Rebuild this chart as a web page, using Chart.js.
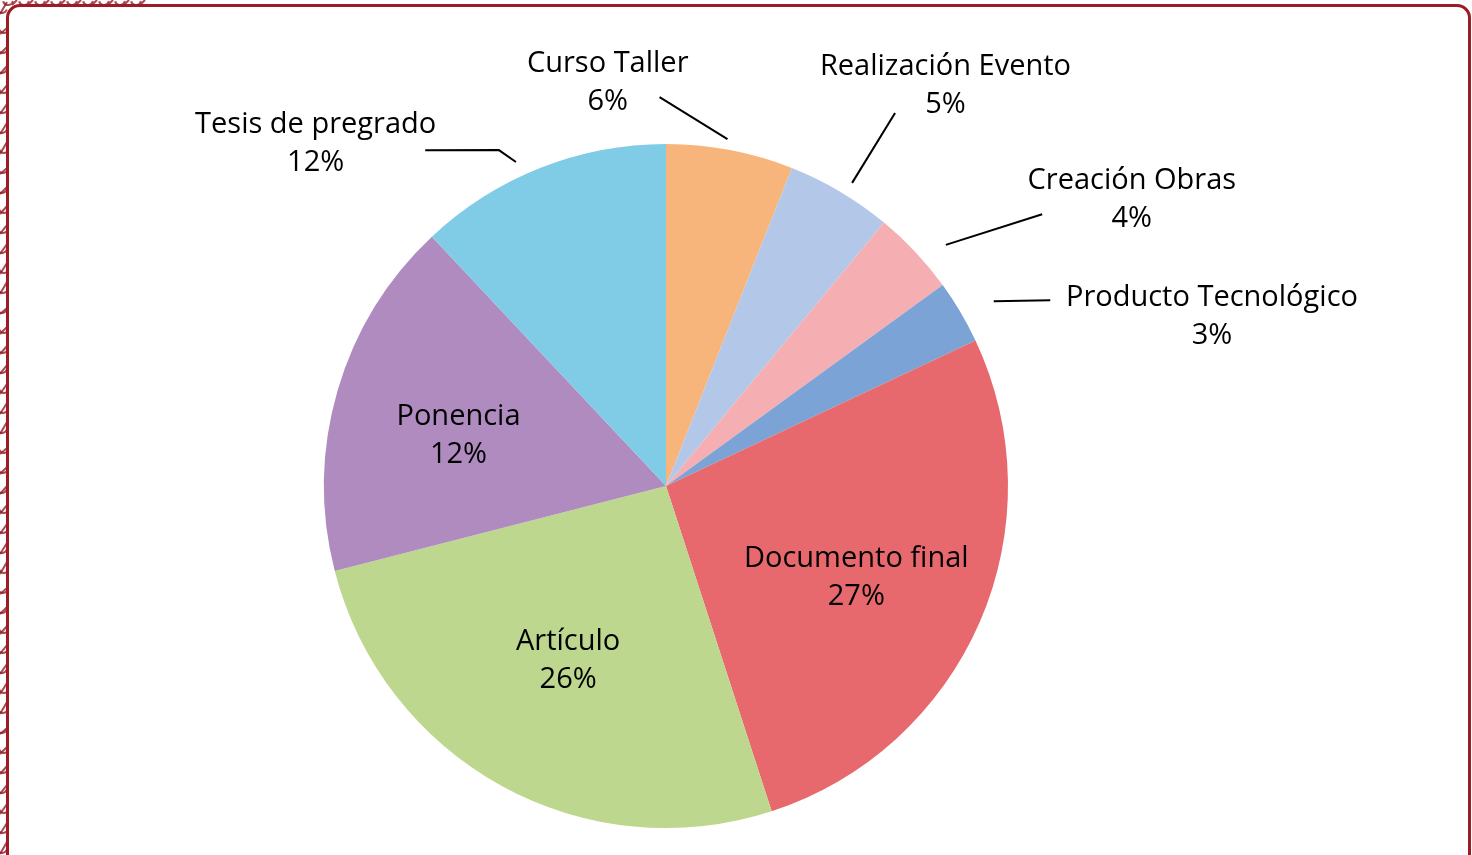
<!DOCTYPE html>
<html lang="es">
<head>
<meta charset="utf-8">
<title>Productos</title>
<script src="https://cdn.jsdelivr.net/npm/chart.js@4.4.1/dist/chart.umd.min.js"></script>
<style>
  html, body { margin: 0; padding: 0; background: #fff; }
  body { width: 1472px; height: 855px; position: relative; overflow: hidden; }
  #deco { position: absolute; left: 0; top: 0; }
  #marco {
    position: absolute; left: 6px; top: 4px; width: 1459px; height: 860px;
    border: 3px solid #9b1c24; border-radius: 14px; background: #fff;
  }
  #grafico { position: absolute; left: 0; top: 0; }
</style>
</head>
<body>
<canvas id="deco" width="160" height="855"></canvas>
<div id="marco"></div>
<canvas id="grafico" width="1472" height="855"></canvas>
<script>
(() => {
  // Datos (porcentajes)
  const categorias = ['Curso Taller', 'Realización Evento', 'Creación Obras', 'Producto Tecnológico',
                      'Documento final', 'Artículo', 'Ponencia', 'Tesis de pregrado'];
  const valores = [6, 5, 4, 3, 27, 26, 17, 12];
  const etiquetasPct = ['6%', '5%', '4%', '3%', '27%', '26%', '12%', '12%'];
  const colores = ['#f7b57b', '#b3c7e8', '#f5afb2', '#7ba3d6', '#e8696d', '#bdd78f', '#b08bc0', '#80cbe6'];

  // Posición de rótulos: [delta grados respecto al centro del sector, factor de radio]
  const rotulos = [
    { pos: [-19, 1.195],    guia: [[-0.75, 1.03], [-11.75, 1.137]] },
    { pos: [4.25, 1.43],    guia: [[0.95, 1.04], [0.95, 1.28]] },
    { pos: [11.55, 1.6],    guia: [[2.45, 1.08], [7.35, 1.357]] },
    { pos: [13.3, 1.672],   guia: [[1.2, 1.1], [4.8, 1.248]] },
    { pos: [2, 0.616],      guia: null },
    { pos: [0.6, 0.583],    guia: null },
    { pos: [-2.3, 0.625],   guia: null },
    { pos: [-23.95, 1.435], guia: [[-3.25, 1.044], [-4.85, 1.097], [-14.05, 1.208]] }
  ];

  const FUENTE = '29px "Open Sans", "Noto Sans", sans-serif';

  // Borde decorativo a la izquierda
  (function deco(){
    const c = document.getElementById('deco').getContext('2d');
    c.strokeStyle = 'rgba(150,25,35,0.8)'; c.lineWidth = 2;
    for (let y = 0; y < 855; y += 20) {
      c.beginPath();
      c.arc(2 + (y % 3), y + 8, 5 + (y % 4), 0.3, 2.8);
      c.stroke();
      c.beginPath(); c.moveTo(0, y + 14); c.lineTo(7, y + 2 + (y % 7)); c.stroke();
    }
    for (let x = 8; x < 140; x += 16) {
      c.beginPath(); c.arc(x, 0, 5 + (x % 4), 0.2, 2.9); c.stroke();
      c.beginPath(); c.moveTo(x + 4, 5); c.lineTo(x + 9, 0); c.stroke();
    }
  })();

  const rad = (d) => d * Math.PI / 180;

  const pluginRotulos = {
    id: 'rotulos',
    afterDatasetsDraw(chart) {
      const ctx = chart.ctx;
      const arcos = chart.getDatasetMeta(0).data;
      ctx.save();
      ctx.font = FUENTE;
      ctx.fillStyle = '#000';
      ctx.strokeStyle = '#000';
      ctx.lineWidth = 2;
      ctx.textAlign = 'center';
      ctx.textBaseline = 'middle';
      arcos.forEach((arc, i) => {
        const { x, y, outerRadius, startAngle, endAngle } = arc.getProps(['x', 'y', 'outerRadius', 'startAngle', 'endAngle'], true);
        const medio = (startAngle + endAngle) / 2;
        const punto = ([d, f]) => [x + Math.cos(medio + rad(d)) * outerRadius * f,
                                   y + Math.sin(medio + rad(d)) * outerRadius * f];
        const r = rotulos[i];
        if (r.guia) {
          ctx.beginPath();
          r.guia.forEach((p, k) => { const [px, py] = punto(p); k ? ctx.lineTo(px, py) : ctx.moveTo(px, py); });
          ctx.stroke();
        }
        const [lx, ly] = punto(r.pos);
        ctx.fillText(categorias[i], lx, ly - 18);
        ctx.fillText(etiquetasPct[i], lx, ly + 20);
      });
      ctx.restore();
    }
  };

  new Chart(document.getElementById('grafico'), {
    type: 'pie',
    data: {
      labels: categorias,
      datasets: [{ data: valores, backgroundColor: colores, borderWidth: 0 }]
    },
    options: {
      responsive: false,
      animation: false,
      layout: { padding: { left: 324, right: 464, top: 144, bottom: 27 } },
      plugins: { legend: { display: false }, tooltip: { enabled: false } }
    },
    plugins: [pluginRotulos]
  });
})();
</script>
</body>
</html>
